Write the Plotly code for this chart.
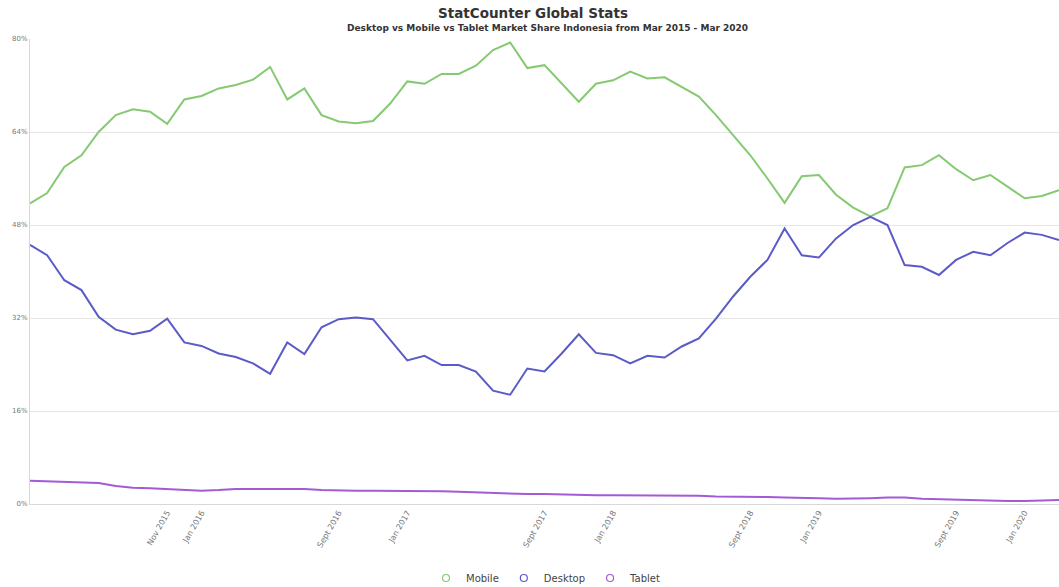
import plotly.graph_objects as go

months = ["Mar 2015","Apr 2015","May 2015","Jun 2015","Jul 2015","Aug 2015","Sep 2015","Oct 2015","Nov 2015","Dec 2015",
          "Jan 2016","Feb 2016","Mar 2016","Apr 2016","May 2016","Jun 2016","Jul 2016","Aug 2016","Sep 2016","Oct 2016","Nov 2016","Dec 2016",
          "Jan 2017","Feb 2017","Mar 2017","Apr 2017","May 2017","Jun 2017","Jul 2017","Aug 2017","Sep 2017","Oct 2017","Nov 2017","Dec 2017",
          "Jan 2018","Feb 2018","Mar 2018","Apr 2018","May 2018","Jun 2018","Jul 2018","Aug 2018","Sep 2018","Oct 2018","Nov 2018","Dec 2018",
          "Jan 2019","Feb 2019","Mar 2019","Apr 2019","May 2019","Jun 2019","Jul 2019","Aug 2019","Sep 2019","Oct 2019","Nov 2019","Dec 2019",
          "Jan 2020","Feb 2020","Mar 2020"]

mobile = [51.7, 53.5, 58.0, 60.0, 64.0, 66.9, 67.9, 67.5, 65.4, 69.6,
          70.2, 71.5, 72.1, 73.0, 75.2, 69.6, 71.5, 66.9, 65.8, 65.5, 65.9, 68.9,
          72.7, 72.3, 74.0, 74.0, 75.4, 78.1, 79.4, 75.0, 75.5, 72.3, 69.2, 72.3,
          72.9, 74.4, 73.2, 73.4, 71.8, 70.1, 66.9, 63.5, 60.0, 56.0, 51.8, 56.4,
          56.6, 53.2, 51.0, 49.5, 50.9, 57.9, 58.3, 60.0, 57.6, 55.7, 56.6, 54.6,
          52.6, 53.0, 54.0]

desktop = [44.6, 42.8, 38.5, 36.8, 32.2, 30.0, 29.2, 29.8, 31.9, 27.8,
           27.2, 25.9, 25.3, 24.2, 22.4, 27.8, 25.8, 30.4, 31.8, 32.1, 31.8, 28.2,
           24.7, 25.5, 23.9, 23.9, 22.8, 19.5, 18.8, 23.3, 22.8, 25.9, 29.2, 26.0,
           25.6, 24.2, 25.5, 25.2, 27.1, 28.5, 31.9, 35.7, 39.1, 42.0, 47.4, 42.8,
           42.4, 45.7, 48.0, 49.4, 48.0, 41.1, 40.8, 39.4, 42.0, 43.4, 42.8, 44.9,
           46.7, 46.3, 45.4]

tablet = [4.0, 3.9, 3.9, 3.8, 3.6, 3.1, 2.8, 2.7, 2.6, 2.4,
          2.3, 2.4, 2.6, 2.6, 2.6, 2.6, 2.6, 2.4, 2.3, 2.3, 2.3, 2.3,
          2.3, 2.2, 2.2, 2.1, 2.0, 1.9, 1.7, 1.7, 1.7, 1.6, 1.6, 1.5,
          1.5, 1.5, 1.5, 1.4, 1.4, 1.4, 1.3, 1.3, 1.2, 1.2, 1.1, 1.1,
          1.0, 0.9, 0.9, 1.0, 1.1, 1.1, 0.9, 0.8, 0.8, 0.7, 0.6, 0.5,
          0.5, 0.6, 0.7]

tick_months = ["Nov 2015", "Jan 2016", "Sep 2016", "Jan 2017", "Sep 2017", "Jan 2018",
               "Sep 2018", "Jan 2019", "Sep 2019", "Jan 2020"]
tick_labels = ["Nov 2015", "Jan 2016", "Sept 2016", "Jan 2017", "Sept 2017", "Jan 2018",
               "Sept 2018", "Jan 2019", "Sept 2019", "Jan 2020"]
y_ticks = [0, 16, 32, 48, 64, 80]
y_tick_labels = ["0%", "16%", "32%", "48%", "64%", "80%"]

series = [("Mobile", mobile, "#85c972"), ("Desktop", desktop, "#5b5bc8"), ("Tablet", tablet, "#a35ad6")]

fig = go.Figure()
for name, vals, col in series:
    fig.add_trace(go.Scatter(x=months, y=vals, mode="lines", name=name,
                             line=dict(color=col, width=2), showlegend=False))
for name, vals, col in series:
    fig.add_trace(go.Scatter(x=[None], y=[None], mode="markers", name=name,
                             marker=dict(symbol="circle-open", color=col, size=7,
                                         line=dict(width=1.2, color=col))))

fig.update_layout(
    width=1059, height=587,
    margin=dict(l=30, r=0, t=39, b=83, autoexpand=False),
    paper_bgcolor="white", plot_bgcolor="white",
    font=dict(family="DejaVu Sans", color="#555555"),
    legend=dict(orientation="h", xref="container", x=546 / 1059, xanchor="center",
                yref="container", y=(587 - 578) / 587, yanchor="middle",
                font=dict(size=10, color="#444444"), itemwidth=30, tracegroupgap=0),
)
fig.add_annotation(text="<b>StatCounter Global Stats</b>", xref="paper", yref="paper",
                   x=(533 - 30) / 1029, y=1.0 + (39 - 13) / 465, xanchor="center", yanchor="middle",
                   showarrow=False, font=dict(size=13.5, color="#333333"))
fig.add_annotation(text="<b>Desktop vs Mobile vs Tablet Market Share Indonesia from Mar 2015 - Mar 2020</b>",
                   xref="paper", yref="paper", x=(547 - 30) / 1029, y=1.0 + (39 - 28) / 465,
                   xanchor="center", yanchor="middle", showarrow=False,
                   font=dict(size=9, color="#333333"))

fig.update_xaxes(type="category", range=[0, len(months) - 1], tickmode="array",
                 tickvals=tick_months, ticktext=tick_labels, tickangle=-60,
                 tickfont=dict(size=8, color="#777777"), showgrid=False, automargin=False,
                 showline=True, linecolor="#d8d8d8", linewidth=1, ticks="")
fig.update_yaxes(range=[0, 80], tickmode="array", tickvals=y_ticks, ticktext=y_tick_labels,
                 tickfont=dict(size=7, color="#777777"), showgrid=True, gridcolor="#e6e6e6",
                 gridwidth=1, showline=True, linecolor="#d8d8d8", linewidth=1, automargin=False,
                 zeroline=False, ticks="")

fig.write_html("out.html", config={"displayModeBar": False},
               post_script="document.body.style.margin='0';document.body.style.overflow='hidden';")
